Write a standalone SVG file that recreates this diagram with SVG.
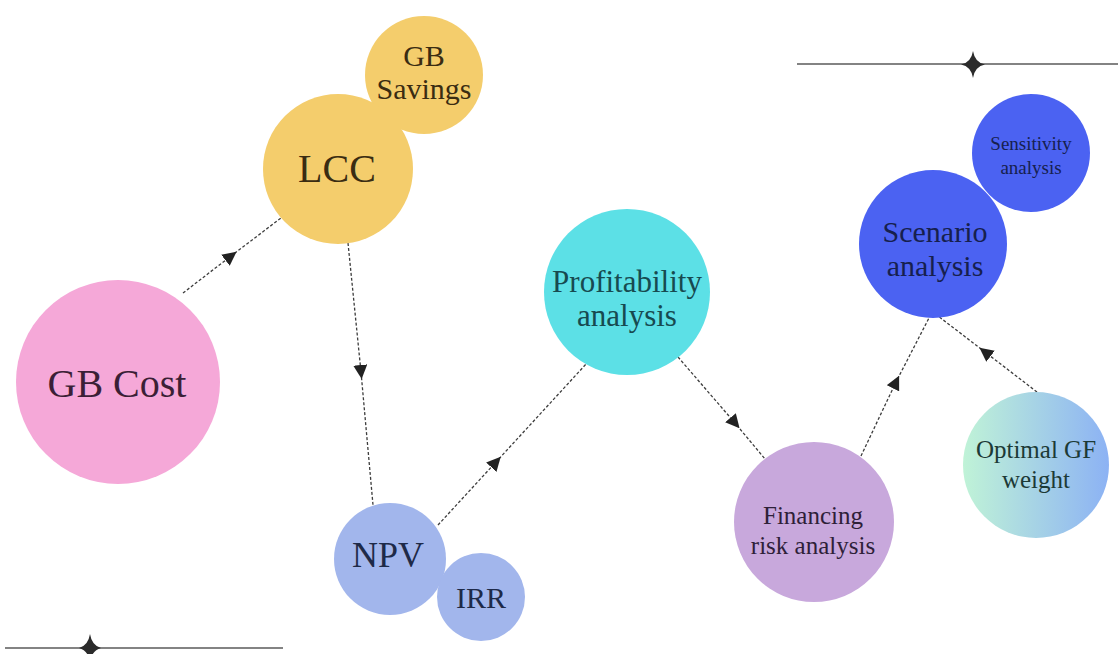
<svg xmlns="http://www.w3.org/2000/svg" width="1118" height="654" viewBox="0 0 1118 654">
  <style>
    .lbl { font-family: "Liberation Serif", "DejaVu Serif", serif; text-anchor: middle; dominant-baseline: central; }
    .link { fill: none; stroke: #3d3d3d; stroke-width: 1.3; stroke-dasharray: 3 2; marker-mid: url(#tri); }
    .rule { stroke: #5a5a5a; stroke-width: 1.6; }
    .star { fill: #2b2b2b; }
  </style>
  <defs>
    <marker id="tri" viewBox="0 0 10 10" refX="5" refY="5" markerWidth="14" markerHeight="14" markerUnits="userSpaceOnUse" orient="auto">
      <path d="M0,0 L10,5 L0,10 Z" fill="#222"/>
    </marker>
    <linearGradient id="mint" x1="0" y1="0" x2="1" y2="0">
      <stop offset="0" stop-color="#c0f3d7"/>
      <stop offset="1" stop-color="#8cb2f4"/>
    </linearGradient>
  </defs>

  <rect width="1118" height="654" fill="#ffffff"/>

  <!-- decorative rules with four-point stars -->
  <g id="rule-top">
    <line class="rule" x1="797" y1="64" x2="1118" y2="64"/>
    <path class="star" d="M973,51 Q974.8,62.5 985,64.5 Q974.8,66.5 973,78 Q971.2,66.5 961,64.5 Q971.2,62.5 973,51 Z"/>
  </g>
  <g id="rule-bottom">
    <line class="rule" x1="5" y1="648" x2="283" y2="648"/>
    <path class="star" d="M90,634 Q91.8,645.5 101,648 Q91.8,650.5 90,662 Q88.2,650.5 79,648 Q88.2,645.5 90,634 Z"/>
  </g>

  <!-- connectors: start, midpoint (arrowhead), end -->
  <g id="connectors">
    <path class="link" d="M183,293 L231,256 L281,218"/>
    <path class="link" d="M348,243 L361,372 L373,505"/>
    <path class="link" d="M438,525 L496,462 L587,363"/>
    <path class="link" d="M678,357 L735,423 L765,459"/>
    <path class="link" d="M861,456 L896,382 L930,316"/>
    <path class="link" d="M1037,392 L985,352 L938,316"/>
  </g>

  <g id="gb-savings">
    <circle cx="424" cy="75" r="59" fill="#f4cd6c"/>
    <text class="lbl" x="424" y="55" font-size="30" fill="#3a2c12">GB</text>
    <text class="lbl" x="424" y="88" font-size="30" fill="#3a2c12">Savings</text>
  </g>

  <g id="lcc">
    <circle cx="338" cy="169" r="75" fill="#f4cd6c"/>
    <text class="lbl" x="337" y="168" font-size="40" fill="#3a2c12">LCC</text>
  </g>

  <g id="gb-cost">
    <circle cx="118" cy="382" r="102" fill="#f5a8d8"/>
    <text class="lbl" x="117" y="383" font-size="40" fill="#3b1f36">GB Cost</text>
  </g>

  <g id="npv">
    <circle cx="390" cy="559" r="56" fill="#a2b6ec"/>
    <text class="lbl" x="388" y="555" font-size="36" fill="#1e2a48">NPV</text>
  </g>

  <g id="irr">
    <circle cx="481" cy="597" r="44" fill="#a2b6ec"/>
    <text class="lbl" x="481" y="597" font-size="30" fill="#1e2a48">IRR</text>
  </g>

  <g id="profitability">
    <circle cx="627" cy="292" r="83" fill="#5ce0e6"/>
    <text class="lbl" x="627" y="281" font-size="31" fill="#174a50">Profitability</text>
    <text class="lbl" x="627" y="315" font-size="31" fill="#174a50">analysis</text>
  </g>

  <g id="financing">
    <circle cx="814" cy="522" r="80" fill="#c8a8dc"/>
    <text class="lbl" x="813" y="515" font-size="25" fill="#2e2038">Financing</text>
    <text class="lbl" x="813" y="545" font-size="25" fill="#2e2038">risk analysis</text>
  </g>

  <g id="scenario">
    <circle cx="933" cy="244" r="74" fill="#4b62f2"/>
    <text class="lbl" x="935" y="231" font-size="30" fill="#16204e">Scenario</text>
    <text class="lbl" x="935" y="265" font-size="30" fill="#16204e">analysis</text>
  </g>

  <g id="sensitivity">
    <circle cx="1031" cy="153" r="59" fill="#4b62f2"/>
    <text class="lbl" x="1031" y="143" font-size="19" fill="#16204e">Sensitivity</text>
    <text class="lbl" x="1031" y="167" font-size="19" fill="#16204e">analysis</text>
  </g>

  <g id="optimal-gf">
    <circle cx="1036" cy="465" r="73" fill="url(#mint)"/>
    <text class="lbl" x="1036" y="449" font-size="25" fill="#1c3a36">Optimal GF</text>
    <text class="lbl" x="1036" y="479" font-size="25" fill="#1c3a36">weight</text>
  </g>
</svg>
